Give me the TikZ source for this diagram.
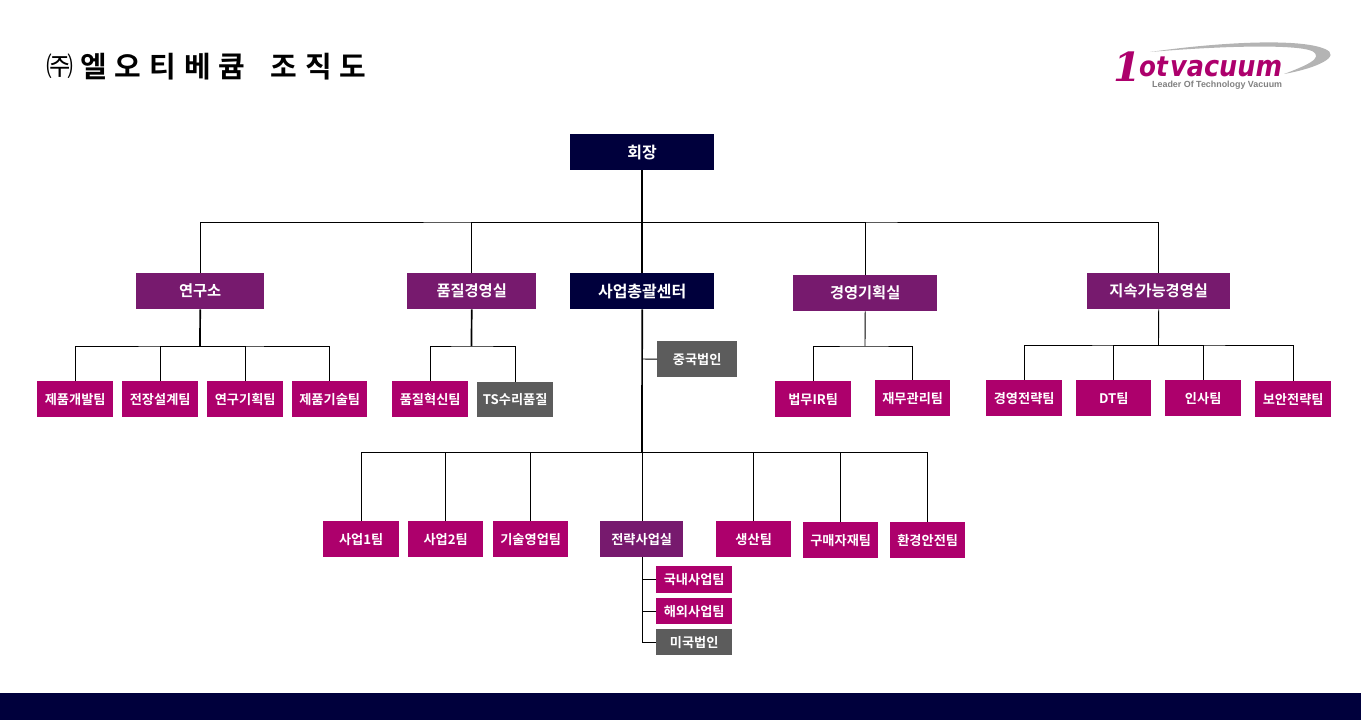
\documentclass[tikz,border=0pt]{standalone}
\usepackage{fontspec}
\setmainfont{Noto Sans CJK KR}[BoldFont={Noto Sans CJK KR Bold}]
\newfontfamily\logofont{DejaVu Sans}
\newfontfamily\logoserif{DejaVu Serif}
\newfontfamily\greyfont{Liberation Sans}
\definecolor{navy}{HTML}{00003C}
\definecolor{plum}{HTML}{771A6E}
\definecolor{magenta1}{HTML}{AD006C}
\definecolor{graybox}{HTML}{5C5C5C}
\definecolor{swoosh}{HTML}{B4B4B4}
\tikzset{
  box/.style={draw=none,inner sep=0pt,text=white,font=\bfseries\fontsize{13.2}{15}\selectfont,anchor=north west},
  navybox/.style={box,fill=navy,font=\bfseries\fontsize{16}{18}\selectfont},
  plumbox/.style={box,fill=plum,font=\bfseries\fontsize{15.3}{17}\selectfont},
  teambox/.style={box,fill=magenta1},
  greybox/.style={box,fill=graybox},
  conn/.style={draw=black,line width=0.9pt},
  trunk/.style={draw=black,line width=1.7pt},
  logotext/.style={anchor=base west,inner sep=0pt,text=magenta1},
}
\newcommand{\bx}[7]{\node[#1,minimum width=#5pt,minimum height=#6pt] (#2) at (#3,#4) {#7};}
\begin{document}
\begin{tikzpicture}[x=1pt,y=-1pt]
\useasboundingbox (0,0) rectangle (1361,720);
\fill[navy] (0,693) rectangle (1361,720);
\node[anchor=west,inner sep=0pt,font=\fontsize{27}{30}\selectfont] (ju) at (46,66) {㈜};
\node[anchor=west,inner sep=0pt,font=\bfseries\fontsize{29}{32}\selectfont] (title) at (80,66.5) {엘\hspace{8pt}오\hspace{8pt}티\hspace{8pt}베\hspace{8pt}큠\hspace{25pt}조\hspace{8pt}직\hspace{8pt}도};
% logo
\fill[swoosh] (1150,52) .. controls (1220,42) and (1300,38) .. (1325,49) .. controls (1342,56) and (1318,68) .. (1284,74) .. controls (1305,66) and (1325,58) .. (1312,51) .. controls (1295,44) and (1220,46) .. (1150,52) -- cycle;
\node[logotext,font=\logoserif\bfseries\itshape\fontsize{40}{40}\selectfont] (logo1) at (1113,81) {1};
\node[logotext,xscale=0.88,transform shape,font=\logofont\bfseries\itshape\fontsize{28}{28}\selectfont] (logo2) at (1139,76.5) {ot};
\node[logotext,xscale=0.88,transform shape,font=\logofont\bfseries\itshape\fontsize{29}{29}\selectfont] (logo4) at (1170,76.5) {vacuum};
\node[anchor=base west,inner sep=0pt,text=gray,font=\greyfont\bfseries\fontsize{8.9}{9}\selectfont] (logo3) at (1152,87) {Leader Of Technology Vacuum};
% boxes
\bx{navybox}{ceo}{570}{134}{144}{36}{회장}
\bx{plumbox}{lab}{136}{273}{128}{36}{연구소}
\bx{plumbox}{qm}{407}{273}{129}{36}{품질경영실}
\bx{navybox}{biz}{570}{273}{144}{36}{사업총괄센터}
\bx{plumbox}{plan}{793}{275}{144}{36}{경영기획실}
\bx{plumbox}{esg}{1087}{273}{143}{36}{지속가능경영실}
\bx{teambox}{a1}{37}{381}{76}{36}{제품개발팀}
\bx{teambox}{a2}{122}{381}{76}{36}{전장설계팀}
\bx{teambox}{a3}{207}{381}{76}{36}{연구기획팀}
\bx{teambox}{a4}{292}{381}{75}{36}{제품기술팀}
\bx{teambox}{b1}{392}{381}{76}{36}{품질혁신팀}
\bx{greybox}{b2}{477}{382}{76}{35}{TS수리품질}
\bx{greybox}{cn}{657}{341}{80}{36}{중국법인}
\bx{teambox}{c1}{775}{381}{76}{36}{법무IR팀}
\bx{teambox}{c2}{875}{380}{75}{36}{재무관리팀}
\bx{teambox}{d1}{986}{380}{76}{36}{경영전략팀}
\bx{teambox}{d2}{1076}{380}{75}{36}{DT팀}
\bx{teambox}{d3}{1165}{380}{76}{36}{인사팀}
\bx{teambox}{d4}{1255}{381}{76}{36}{보안전략팀}
\bx{teambox}{e1}{323}{521}{76}{36}{사업1팀}
\bx{teambox}{e2}{408}{521}{75}{36}{사업2팀}
\bx{teambox}{e3}{493}{521}{75}{36}{기술영업팀}
\bx{plumbox,font=\bfseries\fontsize{13.2}{15}\selectfont}{e4}{600}{521}{83}{36}{전략사업실}
\bx{teambox}{e5}{716}{521}{75}{36}{생산팀}
\bx{teambox}{e6}{803}{522}{75}{36}{구매자재팀}
\bx{teambox}{e7}{890}{522}{75}{36}{환경안전팀}
\bx{teambox}{f1}{656}{566}{76}{27}{국내사업팀}
\bx{teambox}{f2}{656}{598}{76}{26}{해외사업팀}
\bx{greybox}{f3}{656}{629}{76}{26}{미국법인}
% bus levels
\coordinate (topbus) at (642,222);
\coordinate (busA) at (200,346);
\coordinate (busB) at (471.5,346);
\coordinate (busC) at (865,346);
\coordinate (busD) at (1158.5,345);
\coordinate (busE) at (642,452);
\coordinate (jcn) at (642,359);
\coordinate (jf) at (642,642);
% connectors
\draw[trunk] (ceo.south) -- (biz.north);
\draw[conn] (lab.north) |- (topbus) -| (esg.north);
\draw[conn] (qm.north) |- (topbus);
\draw[conn] (plan.north) |- (topbus);
\draw[trunk] (lab.south) -- (busA);
\draw[conn] (a1.north) |- (busA) -| (a4.north);
\draw[conn] (a2.north) |- (busA);
\draw[conn] (a3.north) |- (busA);
\draw[trunk] (qm.south) -- (busB);
\draw[conn] (b1.north) |- (busB) -| (b2.north);
\draw[trunk] (biz.south) -- (busE);
\draw[conn] (jcn) -- (cn.west);
\draw[conn] (plan.south) -- (busC);
\draw[conn] (c1.north) |- (busC) -| (c2.north);
\draw[conn] (esg.south) -- (busD);
\draw[conn] (d1.north) |- (busD) -| (d4.north);
\draw[conn] (d2.north) |- (busD);
\draw[conn] (d3.north) |- (busD);
\draw[conn] (e1.north) |- (busE) -| (e7.north);
\draw[conn] (e2.north) |- (busE);
\draw[conn] (e3.north) |- (busE);
\draw[conn] (busE) -- (e4.north -| busE);
\draw[conn] (e5.north) |- (busE);
\draw[conn] (e6.north) |- (busE);
\draw[conn] (e4.south -| busE) -- (jf) -- (f3.west |- jf);
\draw[conn] (f1.west) -- (f1.west -| busE);
\draw[conn] (f2.west) -- (f2.west -| busE);
\end{tikzpicture}
\end{document}
